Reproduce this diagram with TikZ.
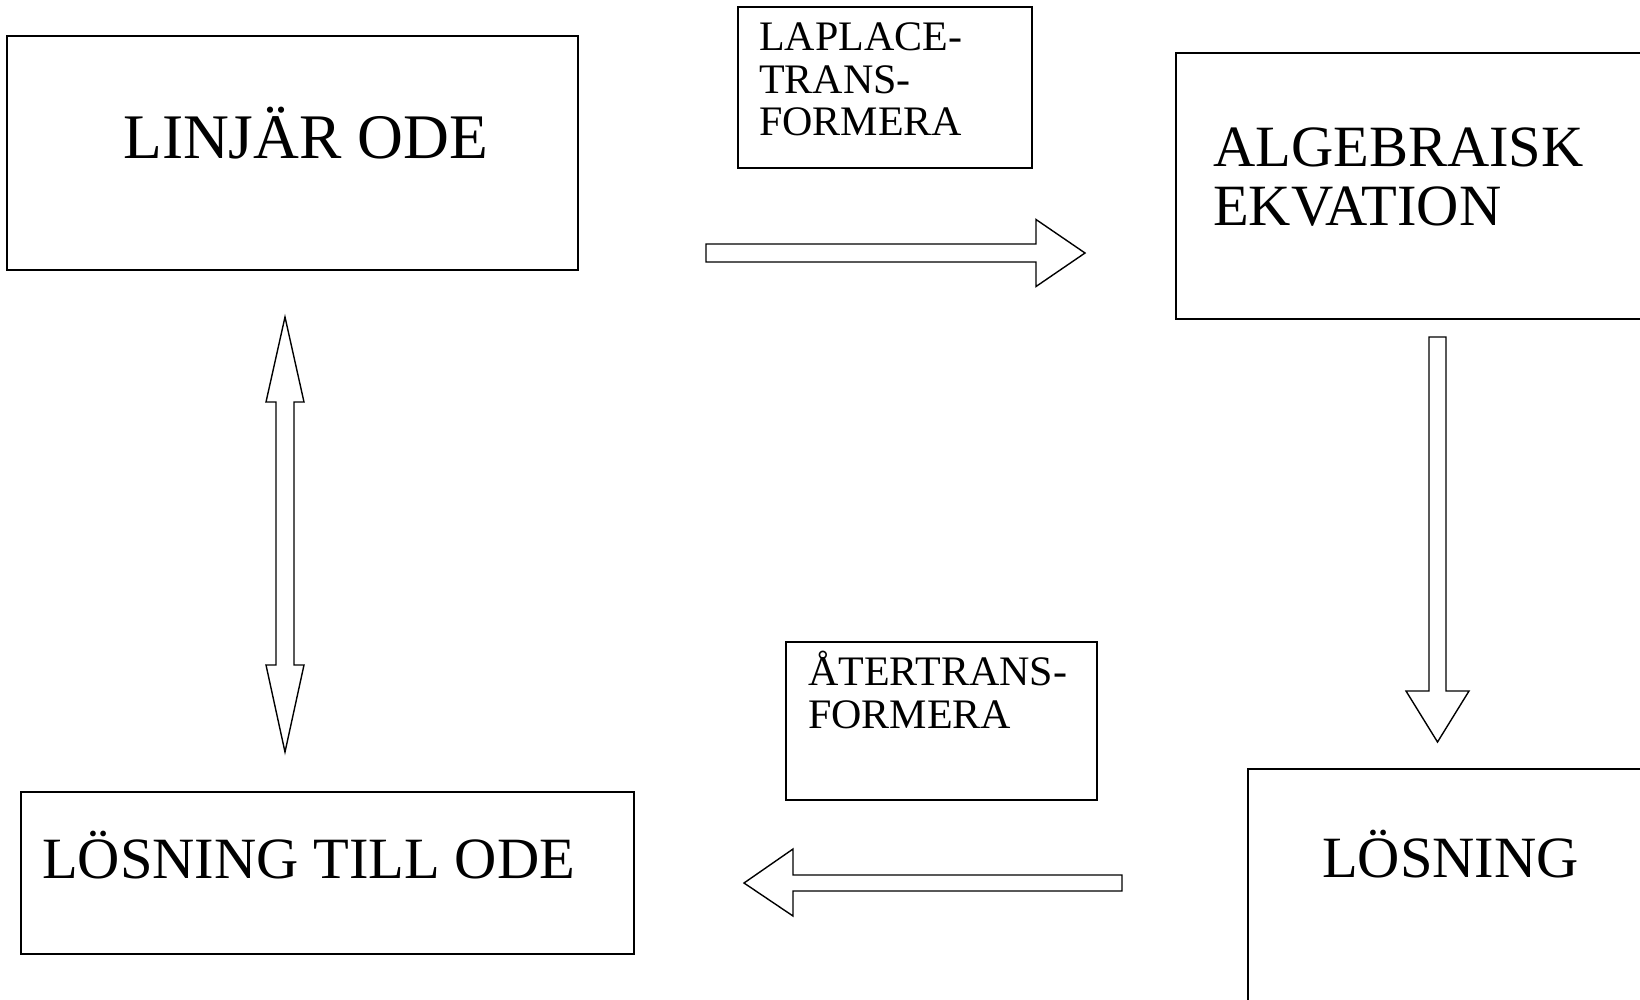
\documentclass[tikz,border=0pt]{standalone}
\usepackage{fontspec}
\setmainfont{Liberation Serif}
\usetikzlibrary{calc}

\tikzset{
    box/.style={draw, line width=1.6pt, inner sep=0pt},
    bigtxt/.style={font=\fontsize{58.5}{59}\selectfont, anchor=base west, inner sep=0pt},
    smalltxt/.style={font=\fontsize{42}{42}\selectfont, anchor=base west, inner sep=0pt},
    blockarrow/.style={draw, line width=1.4pt, line join=miter, fill=white}
}

\begin{document}
\begin{tikzpicture}[x=1pt, y=-1pt]
    \useasboundingbox (0,0) rectangle (1640,999);
    \clip (0,0) rectangle (1640,999);

    % boxes
    \node[box, minimum width=571pt, minimum height=234pt] (ode) at (292.5,153) {};
    \node[box, minimum width=294pt, minimum height=161pt, line width=1.3pt] (lap) at (885,87.5) {};
    \node[box, minimum width=484pt, minimum height=266pt] (alg) at (1418,186) {};
    \node[box, minimum width=412pt, minimum height=251pt] (los) at (1454,894.5) {};
    \node[box, minimum width=311pt, minimum height=158pt, line width=1.3pt] (ater) at (941.5,721) {};
    \node[box, minimum width=613pt, minimum height=162pt] (losode) at (327.5,873) {};

    % texts
    \node[bigtxt, font=\fontsize{63.5}{64}\selectfont] (odetxt) at (123,158) {LINJÄR ODE};
    \node[bigtxt] (algtxt) at (1213,166) {ALGEBRAISK};
    \node[bigtxt] (ekvtxt) at (1213,225) {EKVATION};
    \node[bigtxt] (lostxt) at (1322,877) {LÖSNING};
    \node[bigtxt] (losodetxt) at (42,878) {LÖSNING TILL ODE};

    \node[smalltxt] (laptxt) at (759,50) {LAPLACE-};
    \node[smalltxt] (trtxt) at (759,93) {TRANS-};
    \node[smalltxt] (fotxt) at (759,135) {FORMERA};
    \node[smalltxt] (atertxt) at (808,685) {ÅTERTRANS-};
    \node[smalltxt] (fo2txt) at (808,728) {FORMERA};

    % arrow ends
    \coordinate (rS) at (706,253);
    \coordinate (rE) at (1085,253);
    \coordinate (dS) at (1437.5,337);
    \coordinate (dE) at (1437.5,742);
    \coordinate (lS) at (1122,883);
    \coordinate (lE) at (744,883);
    \coordinate (uT) at (285,317);
    \coordinate (uB) at (285,752);

    % right arrow
    \draw[blockarrow] ($(rS)+(0,-9)$) -- ($(rE)+(-49,-9)$) -- ($(rE)+(-49,-33.5)$) -- (rE)
        -- ($(rE)+(-49,33.5)$) -- ($(rE)+(-49,9)$) -- ($(rS)+(0,9)$) -- cycle;
    % down arrow
    \draw[blockarrow] ($(dS)+(-8.5,0)$) -- ($(dE)+(-8.5,-51)$) -- ($(dE)+(-31.5,-51)$) -- (dE)
        -- ($(dE)+(31.5,-51)$) -- ($(dE)+(8.5,-51)$) -- ($(dS)+(8.5,0)$) -- cycle;
    % left arrow
    \draw[blockarrow] ($(lS)+(0,-8)$) -- ($(lE)+(49,-8)$) -- ($(lE)+(49,-34)$) -- (lE)
        -- ($(lE)+(49,33)$) -- ($(lE)+(49,8)$) -- ($(lS)+(0,8)$) -- cycle;
    % double arrow
    \draw[blockarrow] (uT) -- ($(uT)+(19,85)$) -- ($(uT)+(9,85)$) -- ($(uB)+(9,-87)$)
        -- ($(uB)+(19,-87)$) -- (uB) -- ($(uB)+(-19,-87)$) -- ($(uB)+(-9,-87)$)
        -- ($(uT)+(-9,85)$) -- ($(uT)+(-19,85)$) -- cycle;
\end{tikzpicture}
\end{document}
